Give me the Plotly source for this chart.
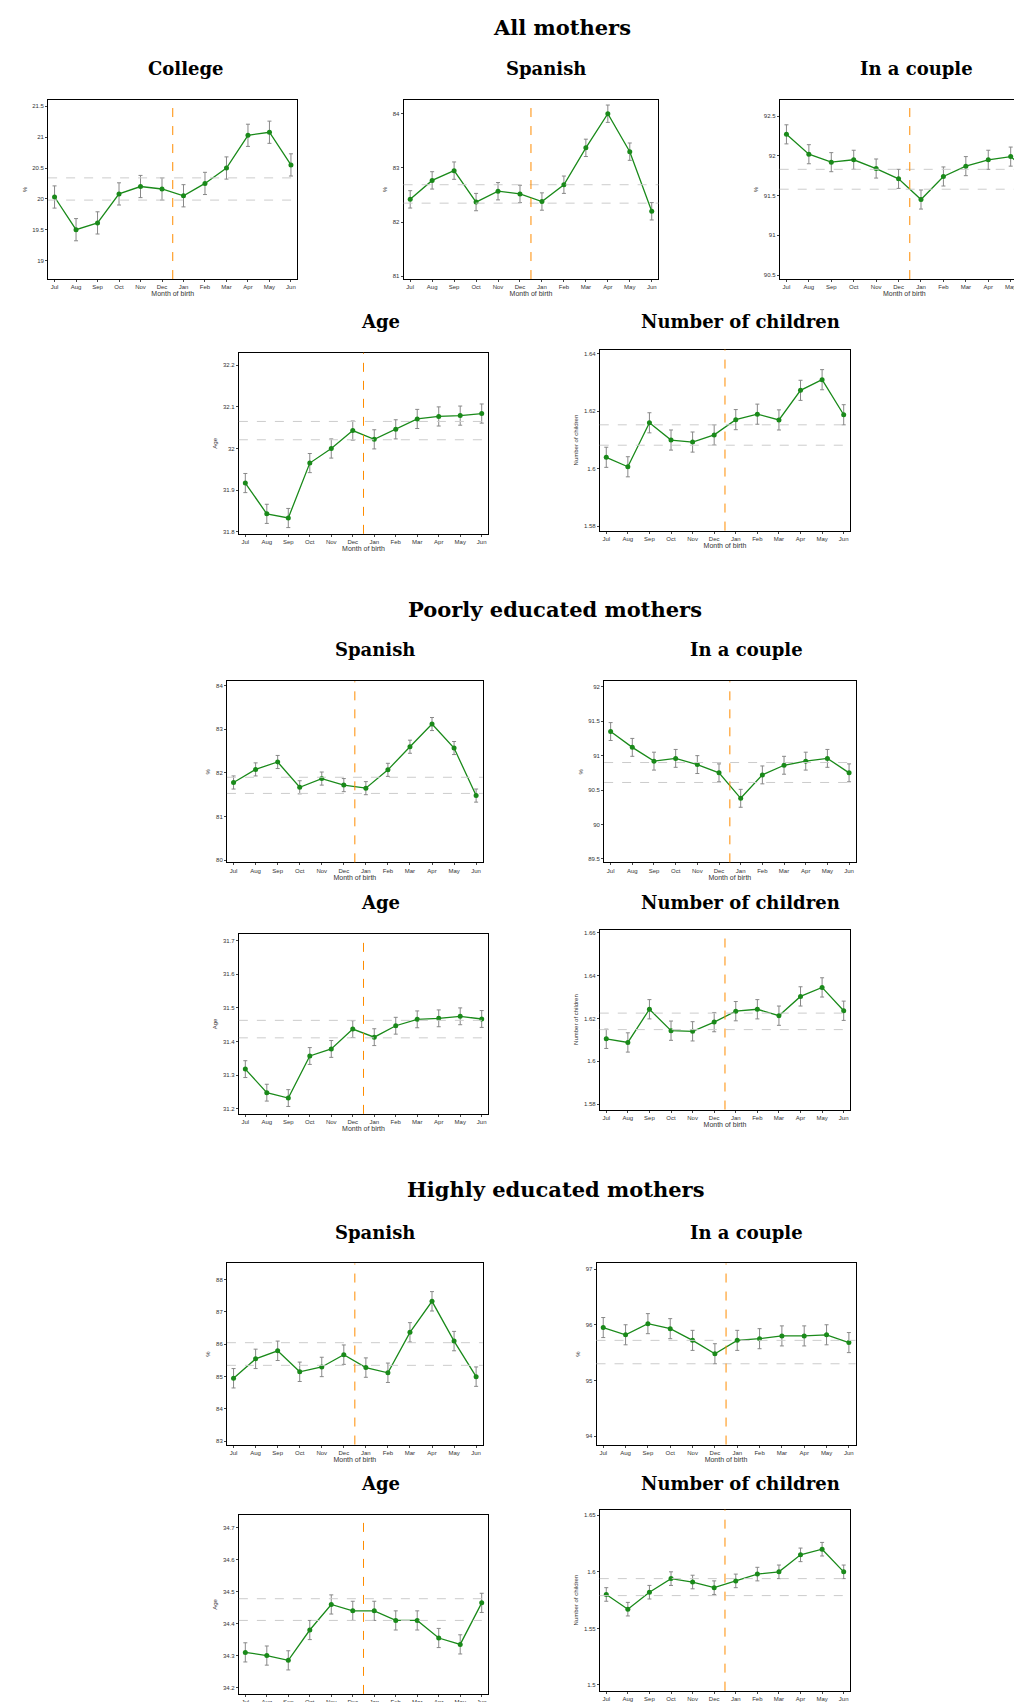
import plotly.graph_objects as go

months = ['Jul', 'Aug', 'Sep', 'Oct', 'Nov', 'Dec', 'Jan', 'Feb', 'Mar', 'Apr', 'May', 'Jun']

# All mothers
all_college = [20.03, 19.5, 19.61, 20.08, 20.2, 20.16, 20.05, 20.25, 20.5, 21.03, 21.08, 20.55]
all_spanish = [82.42, 82.77, 82.95, 82.37, 82.57, 82.52, 82.38, 82.69, 83.37, 84.0, 83.3, 82.2]
all_couple = [92.27, 92.02, 91.92, 91.95, 91.84, 91.71, 91.45, 91.74, 91.87, 91.95, 91.99, 91.76]
all_age = [31.917, 31.843, 31.833, 31.965, 32.0, 32.043, 32.022, 32.046, 32.071, 32.077, 32.079, 32.084]
all_nch = [1.604, 1.6007, 1.616, 1.610, 1.6093, 1.6118, 1.6171, 1.619, 1.617, 1.6273, 1.631, 1.6188]

# Poorly educated mothers
poor_spanish = [81.78, 82.08, 82.25, 81.67, 81.87, 81.72, 81.65, 82.07, 82.6, 83.12, 82.57, 81.48]
poor_couple = [91.35, 91.12, 90.92, 90.96, 90.87, 90.75, 90.38, 90.72, 90.86, 90.92, 90.96, 90.75]
poor_age = [31.318, 31.248, 31.232, 31.357, 31.378, 31.437, 31.413, 31.447, 31.466, 31.469, 31.475, 31.467]
poor_nch = [1.6105, 1.6088, 1.6243, 1.6143, 1.6140, 1.6183, 1.6234, 1.6243, 1.6213, 1.6303, 1.6345, 1.6236]

# Highly educated mothers
rich_spanish = [84.95, 85.55, 85.8, 85.15, 85.3, 85.68, 85.28, 85.12, 86.37, 87.33, 86.1, 85.0]
rich_couple = [95.95, 95.82, 96.02, 95.93, 95.72, 95.48, 95.72, 95.75, 95.8, 95.8, 95.82, 95.68]
rich_age = [34.31, 34.30, 34.285, 34.38, 34.46, 34.44, 34.44, 34.41, 34.41, 34.355, 34.335, 34.465]
rich_nch = [1.58, 1.567, 1.582, 1.594, 1.591, 1.586, 1.592, 1.598, 1.6, 1.615, 1.62, 1.6]

W, H = 942.0, 1568.0

# (values, error, two reference means, y range, tick step, y label, box x0, x1, y0, y1 in image px)
panels = [
    (all_college, 0.18, (20.34, 19.98), (18.7, 21.6), 0.5, '%', 37, 267, 85, 250),
    (all_spanish, 0.16, (82.69, 82.35), (80.95, 84.25), 1, '%', 365, 600, 85, 250),
    (all_couple, 0.12, (91.83, 91.58), (90.45, 92.7), 0.5, '%', 712, 952, 85, 250),
    (all_age, 0.023, (32.065, 32.021), (31.795, 32.23), 0.1, 'Age', 213, 443, 318, 485),
    (all_nch, 0.0035, (1.6153, 1.6082), (1.5785, 1.6415), 0.02, 'Number of children', 546, 777, 315, 482),
    (poor_spanish, 0.15, (81.9, 81.53), (79.95, 84.1), 1, '%', 202, 438, 621, 788),
    (poor_couple, 0.13, (90.9, 90.61), (89.45, 92.08), 0.5, '%', 550, 782, 621, 788),
    (poor_age, 0.025, (31.463, 31.411), (31.185, 31.72), 0.1, 'Age', 213, 443, 854, 1020),
    (poor_nch, 0.0045, (1.6225, 1.6148), (1.5775, 1.6615), 0.02, 'Number of children', 546, 777, 850, 1016),
    (rich_spanish, 0.3, (86.05, 85.35), (82.9, 88.5), 1, '%', 202, 438, 1158, 1325),
    (rich_couple, 0.18, (95.72, 95.3), (93.85, 97.1), 1, '%', 543, 782, 1158, 1325),
    (rich_age, 0.03, (34.478, 34.41), (34.18, 34.74), 0.1, 'Age', 213, 443, 1390, 1555),
    (rich_nch, 0.006, (1.594, 1.579), (1.495, 1.655), 0.05, 'Number of children', 546, 777, 1385, 1552),
]

titles = [
    ('All mothers', 511, 18, 21), ('College', 164, 56, 18), ('Spanish', 496, 56, 18), ('In a couple', 838, 56, 18),
    ('Age', 344, 289, 18), ('Number of children', 676, 289, 18),
    ('Poorly educated mothers', 505, 555, 21), ('Spanish', 339, 592, 18), ('In a couple', 681, 592, 18),
    ('Age', 344, 825, 18), ('Number of children', 676, 825, 18),
    ('Highly educated mothers', 505, 1090, 21), ('Spanish', 339, 1129, 18), ('In a couple', 681, 1129, 18),
    ('Age', 344, 1361, 18), ('Number of children', 676, 1361, 18),
]

fig = go.Figure()
shapes = []
layout = {}
tiny = dict(family='Liberation Sans', size=6, color='#333')

for i, (vals, err, means, yr, step, ylab, x0, x1, y0, y1) in enumerate(panels):
    n = i + 1
    sx = '' if n == 1 else str(n)
    fig.add_trace(go.Scatter(
        x=list(range(12)), y=vals, mode='lines+markers', xaxis='x' + sx, yaxis='y' + sx,
        line=dict(color='#1a8a1a', width=1.3), marker=dict(color='#1a8a1a', size=5),
        error_y=dict(type='constant', value=err, color='#888', thickness=1, width=2),
        showlegend=False))
    t0 = step * (int(yr[0] / step) + 1)
    # panels running past the right edge are cut, as in the original
    x1c = min(x1, W)
    xr_hi = -0.3 + 11.6 * (x1c - x0) / (x1 - x0)
    layout['xaxis' + sx] = dict(
        domain=[x0 / W, x1c / W], anchor='y' + sx, range=[-0.3, xr_hi],
        tickvals=list(range(12)), ticktext=months, tickfont=tiny, ticks='outside', ticklen=2,
        showline=True, mirror=True, linecolor='black', linewidth=1, showgrid=False, zeroline=False,
        title=dict(text='Month of birth', font=dict(family='Liberation Sans', size=7, color='#333'), standoff=0))
    layout['yaxis' + sx] = dict(
        domain=[1 - y1 / H, 1 - y0 / H], anchor='x' + sx, range=list(yr), dtick=step, tick0=t0,
        tickfont=tiny, ticks='outside', ticklen=2, showline=True, mirror=True, linecolor='black',
        linewidth=1, showgrid=False, zeroline=False,
        title=dict(text=ylab, font=dict(family='Liberation Sans', size=6, color='#333'), standoff=4))
    for m in means:
        shapes.append(dict(type='line', xref='x' + sx + ' domain', yref='y' + sx, x0=0, x1=1, y0=m, y1=m,
                           line=dict(color='#cccccc', width=1, dash='dash')))
    shapes.append(dict(type='line', xref='x' + sx, yref='y' + sx + ' domain', x0=5.5, x1=5.5, y0=0, y1=1,
                       line=dict(color='#ff8c00', width=1, dash='dash')))

annotations = [dict(text='<b>%s</b>' % t, x=x / W, y=1 - y / H, xref='paper', yref='paper', showarrow=False,
                    xanchor='center', yanchor='middle',
                    font=dict(family='DejaVu Serif', size=s, color='black'))
               for t, x, y, s in titles]

fig.update_layout(width=1022, height=1702, margin=dict(l=0, r=0, t=0, b=0),
                  plot_bgcolor='white', paper_bgcolor='white', shapes=shapes, annotations=annotations,
                  **layout)
fig.write_html("out.html")
